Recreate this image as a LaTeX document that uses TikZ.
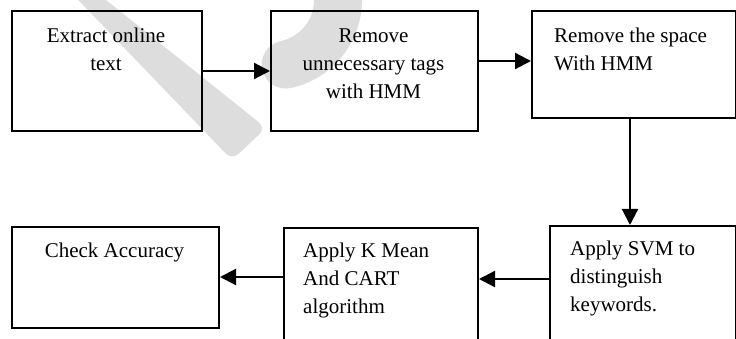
\documentclass[tikz,border=0pt]{standalone}
\usepackage{fontspec}
\setmainfont{Liberation Serif}
\usetikzlibrary{arrows.meta,calc}
\definecolor{wmgray}{HTML}{DDDDDD}
\tikzset{%
  procbox/.style  = {shape=rectangle, draw, line width=2pt,%
                     anchor=north west, inner sep=0pt},%
  proctext/.style = {inner sep=0pt, font=\fontsize{21pt}{28pt}\selectfont},%
  flow/.style     = {line width=2.2pt,%
                     -{Triangle[length=16pt,width=16pt]}},%
  watermark/.style = {fill=wmgray, draw=none}%
}
\begin{document}
\begin{tikzpicture}[x=1pt,y=-1pt]%
	\clip (0,0) rectangle (736,339);
	% faint watermark behind the chart
	\fill[watermark, rounded corners=9pt] (59,-20) -- (81,-20) -- (266,128) -- (232,160) -- cycle;
	\draw[draw=wmgray, line width=48pt, line cap=round] (272,0) ++(-25:66) arc[start angle=-25, end angle=78, radius=66];
	% boxes
	\node[procbox, minimum width=190pt, minimum height=120pt] (b1) at (11,10) {};
	\node[procbox, minimum width=207pt, minimum height=120pt] (b2) at (270,10) {};
	\node[procbox, minimum width=204pt, minimum height=107pt] (b3) at (531,10) {};
	\node[procbox, minimum width=186pt, minimum height=140pt] (b4) at (549,225) {};
	\node[procbox, minimum width=194pt, minimum height=140pt] (b5) at (283,227) {};
	\node[procbox, minimum width=207pt, minimum height=101pt] (b6) at (11,226) {};
	% texts
	\node[proctext, anchor=north, align=center] (t1) at (106,27.7) {Extract online\\text};
	\node[proctext, anchor=north, align=center] (t2) at (373.5,28.5) {Remove\\unnecessary tags\\with HMM};
	\node[proctext, anchor=north west, align=left] (t3) at (554,27.7) {Remove the space\\With HMM};
	\node[proctext, anchor=north west, align=left] (t4) at (570,240.7) {Apply SVM to\\distinguish\\keywords.};
	\node[proctext, anchor=north west, align=left] (t5) at (303,242.7) {Apply K Mean\\And CART\\algorithm};
	\node[proctext, anchor=north, align=center] (t6) at (114.5,242.7) {Check Accuracy};
	% connectors
	\draw[flow] (b1.east) -- (b2.west);
	\draw[flow] ([yshift=10pt]b2.east) -- ([yshift=10pt]b2.east -| b3.west);
	\draw[flow] ([xshift=-4pt]b3.south) -- ([xshift=-4pt]b3.south |- b4.north);
	\draw[flow] ([yshift=-54pt]b4.north west) -- ([yshift=-54pt]b4.north west -| b5.east);
	\draw[flow] ([yshift=-50pt]b5.north west) -- ([yshift=-50pt]b5.north west -| b6.east);
\end{tikzpicture}
\end{document}
